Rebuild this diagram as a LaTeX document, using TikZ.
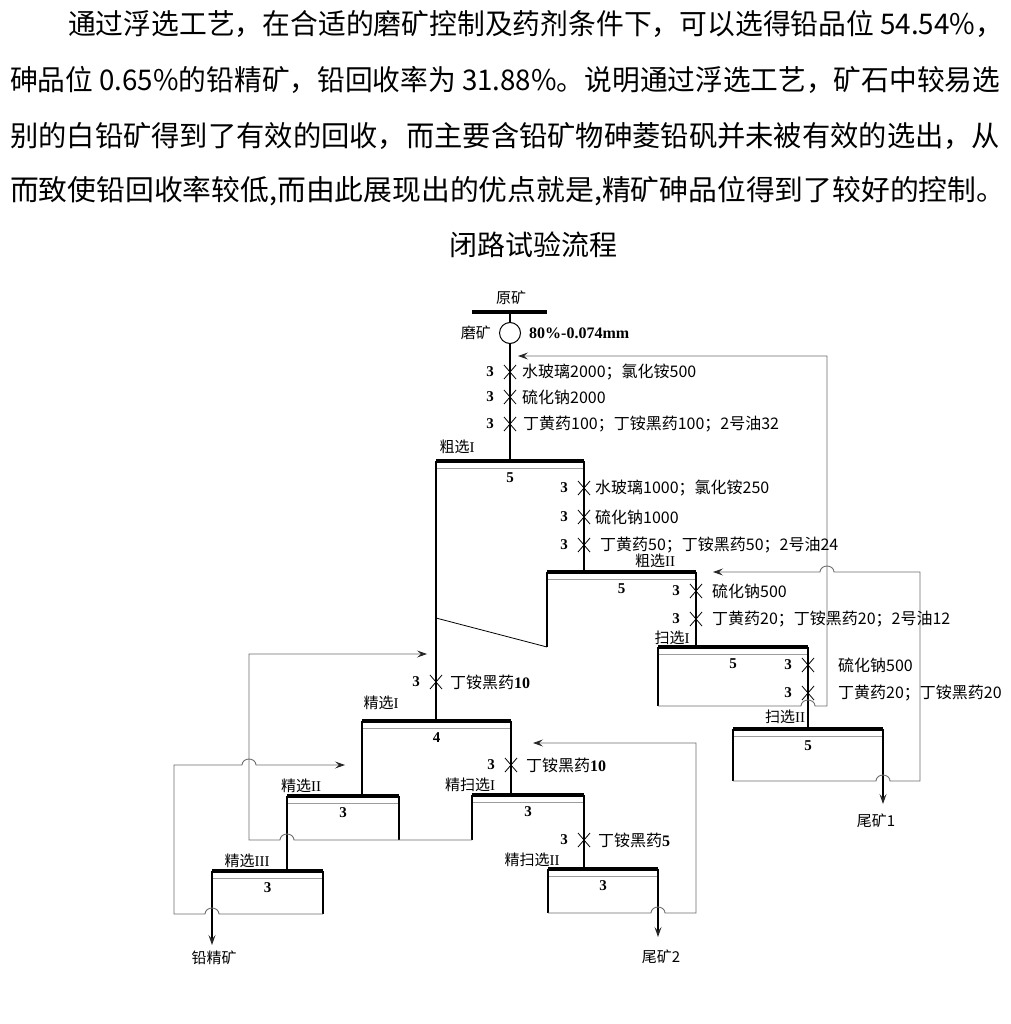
\documentclass[tikz,border=0pt]{standalone}
\usepackage{fontspec}
\usepackage{graphicx}
\setmainfont{Liberation Serif}
\newfontfamily\cjk{Noto Sans CJK SC}
\usetikzlibrary{arrows.meta,positioning}
\definecolor{LineGray}{HTML}{6E6E6E}
\definecolor{FrothGray}{HTML}{9C9C9C}

\tikzset{
  flow/.style={line width=1.1pt},
  back/.style={line width=0.9pt, draw=LineGray},
  topbar/.style={line width=3.5pt},
  froth/.style={line width=0.7pt, draw=FrothGray},
  cross/.style={line width=0.8pt},
  tip/.style={-{Stealth[length=10pt,width=7pt,inset=4pt,color=black!85]}},
  lbl/.style={font=\cjk\fontsize{15}{15}\selectfont, inner sep=0pt},
  reag/.style={font=\cjk\fontsize{16}{16}\selectfont, anchor=west, inner sep=0pt},
  cellnum/.style={font=\rmfamily\bfseries\fontsize{15}{15}\selectfont, inner sep=0pt},
  para/.style={font=\cjk\fontsize{28.5}{34}\selectfont, anchor=base west, inner sep=0pt}
}

\newcommand{\rn}[1]{{\rmfamily #1}}
\newcommand{\bnum}[1]{{\rmfamily\bfseries #1}}
% one printed line of the paragraph, set to a given width
\newcommand{\textline}[2]{\resizebox{#1}{\height}{#2}}
% flotation cell: name, left x, right x, top y, number
\newcommand{\flotcell}[5]{%
  \coordinate (#1-l) at (#2,#4);
  \coordinate (#1-r) at (#3,#4);
  \draw[topbar] (#1-l) -- (#1-r);
  \draw[froth] (#2,#4+7) -- (#3,#4+7);
  \node[cellnum] (#1-n) at ({(#2+#3)/2},#4+17) {#5};
}
% reagent addition: [text gap], name, x, y, text
\newcommand{\dosing}[5][13]{%
  \coordinate (#2) at (#3,#4);
  \draw[cross] (#3-6,#4-7) -- (#3+6,#4+7) (#3-6,#4+7) -- (#3+6,#4-7);
  \node[cellnum] (#2-n) at (#3-20,#4) {3};
  \node[reag] (#2-t) at (#3+#1,#4) {#5};
}
% line hops over a crossing line
\newcommand{\hopR}[2]{-- ({#1-7},#2) arc[start angle=180, end angle=360, x radius=7, y radius=6]}
\newcommand{\hopL}[2]{-- ({#1+7},#2) arc[start angle=0, end angle=-180, x radius=7, y radius=6]}

\begin{document}
\begin{tikzpicture}[x=1pt,y=-1pt]
\fill[white] (0,0) rectangle (1010,1024);
\useasboundingbox (0,0) rectangle (1010,1024);

% text above the flowsheet
\node[para] (p1) at (68,35)
  {\textline{935pt}{通过浮选工艺，在合适的磨矿控制及药剂条件下，可以选得铅品位 54.54\%，}};
\node[para] (p2) at (10,91)
  {\textline{990pt}{砷品位 0.65\%的铅精矿，铅回收率为 31.88\%。说明通过浮选工艺，矿石中较易选}};
\node[para] (p3) at (10,147)
  {\textline{990pt}{别的白铅矿得到了有效的回收，而主要含铅矿物砷菱铅矾并未被有效的选出，从}};
\node[para] (p4) at (10,201)
  {\textline{995pt}{而致使铅回收率较低,而由此展现出的优点就是,精矿砷品位得到了较好的控制。}};
\node[font=\cjk\fontsize{28}{28}\selectfont, inner sep=0pt] (title) at (533,245) {闭路试验流程};

% feed and grinding
\node[lbl] (feed) at (511,298) {原矿};
\draw[topbar] (472,312) -- (547,312);
\node[draw, circle, line width=1pt, minimum size=21pt, inner sep=0pt] (mill) at (510,333) {};
\node[lbl, left=8pt of mill] (grind) {磨矿};
\node[cellnum, font=\rmfamily\bfseries\fontsize{16}{16}\selectfont, right=8pt of mill] (size) {80\%-0.074mm};

% cells
\flotcell{cuI}{436}{584}{461}{5}
\flotcell{cuII}{547}{696}{572}{5}
\flotcell{scI}{658}{808}{647}{5}
\flotcell{scII}{733}{883}{729}{5}
\flotcell{clI}{362}{511}{721}{4}
\flotcell{clII}{287}{399}{796}{3}
\flotcell{clIII}{212}{323}{871}{3}
\flotcell{csI}{472}{584}{795}{3}
\flotcell{csII}{548}{658}{869}{3}

\node[lbl] (cuI-t) at (457,447) {粗选\rn{I}};
\node[lbl] (cuII-t) at (655,561) {粗选\rn{II}};
\node[lbl] (scI-t) at (672,638) {扫选\rn{I}};
\node[lbl] (scII-t) at (785,717) {扫选\rn{II}};
\node[lbl] (clI-t) at (381,703) {精选\rn{I}};
\node[lbl] (clII-t) at (301,786) {精选\rn{II}};
\node[lbl] (clIII-t) at (247,861) {精选\rn{III}};
\node[lbl] (csI-t) at (470,785) {精扫选\rn{I}};
\node[lbl] (csII-t) at (532,860) {精扫选\rn{II}};

% main flow
\draw[flow] (510,312) -- (mill);
\draw[flow] (mill) -- (mill |- cuI-l);
\draw[flow] (cuI-l) -- (cuI-l |- clI-l);
\draw[flow] (cuI-r) -- (cuI-r |- cuII-l);
\draw[flow] (cuII-l) -- ++(0,75);
\draw[line width=0.8pt] (547,647) -- (436,618);
\draw[flow] (cuII-r) -- (cuII-r |- scI-l);
\draw[flow] (scI-l) -- (658,706);
\draw[flow] (scI-r) -- (scI-r |- scII-l);
\draw[flow] (scII-l) -- (733,781);
\draw[flow, tip] (scII-r) -- (883,804);
\draw[flow] (clI-l) -- (clI-l |- clII-l);
\draw[flow] (clI-r) -- (clI-r |- csI-l);
\draw[flow] (clII-l) -- (clII-l |- clIII-l);
\draw[flow] (clII-r) -- (399,840);
\draw[flow] (csI-l) -- (472,840);
\draw[flow] (csI-r) -- (csI-r |- csII-l);
\draw[flow] (clIII-r) -- (323,914);
\draw[flow, tip] (clIII-l) -- (212,945);
\draw[flow] (csII-l) -- (548,913);
\draw[flow, tip] (csII-r) -- (658,937);

% return streams
\draw[back, tip] (658,706) \hopR{808}{706} -- (827,706) -- (827,356) -- (518,356);
\draw[back, tip] (733,781) \hopR{883}{781} -- (920,781) -- (920,572) \hopL{827}{572} -- (713,572);
\draw[back, tip] (472,840) -- (399,840) \hopL{287}{840} -- (249,840) -- (249,654) -- (427,654);
\draw[back, tip] (323,914) \hopL{212}{914} -- (174,914) -- (174,765) \hopR{249}{765} -- (345,765);
\draw[back, tip] (548,913) \hopR{658}{913} -- (696,913) -- (696,743) -- (533,743);

% reagents
\dosing[12]{a1}{510}{372}{水玻璃2000；氯化铵500}
\dosing[12]{a2}{510}{397}{硫化钠2000}
\dosing[13]{a3}{510}{424}{丁黄药100；丁铵黑药100；2号油32}
\dosing[11]{b1}{584}{488}{水玻璃1000；氯化铵250}
\dosing[11]{b2}{584}{517}{硫化钠1000}
\dosing[16]{b3}{584}{545}{丁黄药50；丁铵黑药50；2号油24}
\dosing[16]{c1}{696}{591}{硫化钠500}
\dosing[16]{c2}{696}{619}{丁黄药20；丁铵黑药20；2号油12}
\dosing[30]{d1}{808}{665}{硫化钠500}
\dosing[30]{d2}{808}{693}{丁黄药20；丁铵黑药20}
\dosing[14]{e1}{436}{682}{丁铵黑药\bnum{10}}
\dosing[15]{e2}{511}{765}{丁铵黑药\bnum{10}}
\dosing[14]{e3}{584}{840}{丁铵黑药\bnum{5}}

% products
\node[lbl] (tail1) at (876,821) {尾矿1};
\node[lbl] (tail2) at (661,957) {尾矿2};
\node[lbl] (conc) at (214,958) {铅精矿};
\end{tikzpicture}
\end{document}
